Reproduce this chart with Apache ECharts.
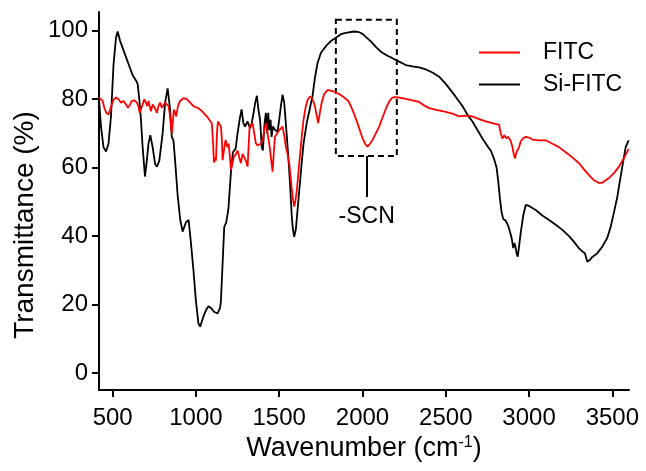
<!DOCTYPE html>
<html>
<head>
<meta charset="utf-8">
<title>FTIR spectra</title>
<script src="https://cdn.jsdelivr.net/npm/echarts@6/dist/echarts.min.js"></script>
<style>
  html, body { margin: 0; padding: 0; background: #fff; }
  #chart { width: 646px; height: 471px; }
</style>
</head>
<body>
<div id="chart"></div>
<script>
// Si-FITC (black)
const siWavenumber = [418, 430, 445, 460, 475, 490, 505, 520, 530, 545, 560, 590, 620, 640, 650, 660, 670, 680, 694, 705,
  715, 726, 740, 755, 766, 780, 800, 815, 830, 845, 855, 865, 875, 890, 905, 920, 940, 956, 970, 985,
  1000, 1015, 1025, 1035, 1045, 1060, 1075, 1090, 1110, 1130, 1145, 1150, 1160, 1170, 1182, 1195, 1205, 1212, 1222, 1238,
  1250, 1262, 1274, 1285, 1295, 1310, 1325, 1335, 1346, 1356, 1366, 1375, 1385, 1395, 1402, 1412, 1420, 1428, 1434, 1440,
  1448, 1454, 1462, 1475, 1490, 1500, 1510, 1520, 1530, 1538, 1546, 1556, 1566, 1575, 1582, 1590, 1600, 1610, 1618, 1626,
  1636, 1646, 1665, 1685, 1700, 1715, 1730, 1750, 1780, 1810, 1840, 1870, 1900, 1950, 1980, 2000, 2030, 2050, 2080, 2110,
  2150, 2180, 2220, 2260, 2300, 2340, 2380, 2420, 2460, 2500, 2540, 2570, 2600, 2630, 2660, 2690, 2720, 2750, 2770, 2790,
  2805, 2815, 2825, 2835, 2845, 2860, 2875, 2888, 2897, 2905, 2912, 2918, 2925, 2932, 2940, 2950, 2965, 2980, 3000, 3040,
  3080, 3120, 3160, 3200, 3240, 3270, 3300, 3320, 3335, 3350, 3365, 3380, 3410, 3440, 3470, 3490, 3510, 3530, 3545, 3560,
  3580, 3598];
const siTransmittance = [80, 72, 66, 64.7, 67, 75, 90, 98, 99.8, 97, 95, 91, 87, 85.5, 84.5, 80, 74, 66, 57.4, 62,
  67, 69.5, 66, 61, 60.3, 62, 70, 79, 83.2, 77, 69, 68, 62, 52, 45, 41.3, 44, 44.7, 38, 30,
  21, 14.5, 13.5, 14, 16.5, 18.3, 19.5, 19, 17.8, 17.4, 19, 21, 32, 42.7, 44, 48, 55, 60, 64.5, 65.5,
  70, 74, 77, 73, 72, 73.5, 71.5, 73, 76, 79, 81, 77, 74, 66, 65, 73, 76, 70, 76, 71,
  74, 69, 72, 71, 70.5, 74, 78, 81.3, 79, 74, 69, 62, 54.4, 46, 42, 39.8, 42, 47.6, 52, 56.4,
  62, 67, 73, 77.5, 81, 86.5, 90.5, 93.5, 95.5, 97, 98, 99, 99.4, 99.8, 99.6, 99.1, 97.8, 96.9, 95.3, 93.9,
  92.7, 92, 91, 90, 89.6, 89.3, 88.7, 87.8, 86.6, 84.5, 82, 80, 78, 75.5, 73.5, 71, 68.5, 66.3, 65, 62.5,
  60, 56, 51, 47, 45, 44.5, 43, 40.8, 39, 36.5, 38, 37, 35, 34, 37, 41, 46, 49.1, 48.8, 47.6,
  46, 44.7, 43.3, 41.8, 40, 38.3, 36.4, 35.5, 35, 32.5, 33, 33.9, 35, 36.9, 39.5, 42.7, 47, 51.5, 56, 60.3,
  66, 68];

// FITC (red)
const fitcWavenumber = [418, 430, 440, 450, 462, 475, 487, 495, 505, 520, 535, 550, 565, 580, 592, 605, 615, 630, 645, 655,
  662, 670, 680, 690, 700, 708, 715, 722, 730, 740, 750, 758, 766, 775, 785, 795, 805, 815, 825, 835,
  842, 848, 856, 862, 868, 875, 882, 892, 905, 925, 945, 965, 990, 1010, 1030, 1050, 1065, 1080, 1095, 1102,
  1108, 1114, 1120, 1126, 1132, 1142, 1150, 1156, 1160, 1168, 1178, 1188, 1197, 1204, 1210, 1218, 1228, 1240, 1250, 1260,
  1270, 1280, 1290, 1300, 1310, 1316, 1322, 1332, 1340, 1350, 1360, 1370, 1380, 1390, 1400, 1410, 1420, 1430, 1440, 1450,
  1460, 1467, 1474, 1487, 1500, 1510, 1520, 1530, 1540, 1550, 1560, 1568, 1574, 1582, 1590, 1598, 1606, 1616, 1626, 1636,
  1646, 1658, 1670, 1685, 1700, 1714, 1724, 1734, 1744, 1754, 1770, 1790, 1830, 1860, 1890, 1915, 1940, 1955, 1970, 1985,
  2000, 2015, 2030, 2045, 2060, 2080, 2100, 2115, 2130, 2145, 2160, 2175, 2190, 2220, 2260, 2300, 2340, 2370, 2400, 2450,
  2500, 2540, 2580, 2620, 2660, 2700, 2740, 2780, 2820, 2830, 2840, 2852, 2862, 2875, 2888, 2900, 2908, 2916, 2924, 2932,
  2940, 2950, 2965, 2980, 3000, 3020, 3060, 3100, 3140, 3180, 3220, 3260, 3300, 3330, 3360, 3390, 3420, 3440, 3460, 3480,
  3510, 3540, 3570, 3598];
const fitcTransmittance = [80.5, 81, 79.5, 77.5, 76, 75.5, 76, 78.5, 79.8, 80.5, 80, 79, 79.5, 78.5, 77.5, 78.5, 79.5, 79.7, 79, 78,
  76, 75.9, 78.5, 80, 79.5, 78, 79.5, 78, 76.5, 78.5, 79, 77, 76, 78, 79, 77.5, 77.5, 79, 79.5, 78,
  76, 73, 70, 74, 77, 76, 75, 78, 79.5, 80.3, 80, 79, 77.8, 77.5, 76.8, 75.8, 75, 74, 73, 68,
  61.5, 63, 62, 70, 73.5, 73, 72, 68, 62.2, 65, 68.1, 66, 67, 63, 59.3, 61, 63.2, 64, 65, 63,
  61.3, 64, 63, 62, 60.3, 66, 72, 72.5, 73, 70, 67.1, 66.5, 66, 67, 68, 71, 73, 70, 67, 63,
  58.8, 64, 69, 70, 71, 71.5, 72, 69.5, 66, 64, 61.3, 57.5, 54.4, 51, 48.6, 50.5, 53.5, 59, 64.2, 69.5,
  74, 77.5, 79.8, 80.8, 80, 78, 75.5, 73, 76, 78.8, 81.5, 82.7, 82.2, 81.5, 80.5, 79.5, 76.9, 75, 73, 70.8,
  68.6, 67, 66.1, 67, 68.1, 70, 72, 74, 75.9, 77.8, 79.3, 80.3, 80.6, 80.5, 80.1, 79.7, 79.2, 78.2, 77.4, 76.8,
  76.3, 75.8, 75, 75.2, 75, 74.2, 73.5, 73, 72.5, 70, 68.5, 69.5, 68.6, 69, 68, 66.1, 64, 62.7, 64.5, 65,
  66, 67.7, 68.6, 69, 68.8, 68.2, 68, 68, 67, 66, 64.5, 63, 61.3, 59.5, 57.8, 56.3, 55.5, 55.6, 56.3, 57,
  58.4, 60.3, 62.8, 65.5];

const xTicks = [500, 1000, 1500, 2000, 2500, 3000, 3500];
const yTicks = [0, 20, 40, 60, 80, 100];

// dashed box around the -SCN band and its pointer line
const boxWavenumber = [1840, 2206];
const boxTransmittance = [63.4, 103.2];
const pointerWavenumber = 2025;
const pointerTransmittance = [63.4, 51.4];

const font = "'Liberation Sans', Arial, sans-serif";

function pairs(xs, ys) {
  return xs.map((x, i) => [x, ys[i]]);
}

const myChart = echarts.init(document.getElementById('chart'));
myChart.setOption({
  animation: false,
  backgroundColor: '#fff',
  grid: {
    left: 99,
    right: 17,
    top: 12,
    bottom: 81
  },
  legend: {
    data: [
      { name: 'FITC', icon: 'rect' },
      { name: 'Si-FITC', icon: 'rect' }
    ],
    orient: 'vertical',
    left: 479,
    top: 41,
    padding: 0,
    itemWidth: 41,
    itemHeight: 2,
    itemGap: 9,
    textStyle: {
      fontFamily: font,
      fontSize: 23,
      color: '#000',
      padding: [0, 0, 0, 18]
    }
  },
  xAxis: {
    type: 'value',
    min: 418,
    max: 3600,
    name: 'Wavenumber (cm{sup|-1})',
    nameLocation: 'middle',
    nameGap: 45,
    nameTextStyle: {
      fontFamily: font,
      fontSize: 27,
      color: '#000',
      rich: {
        sup: { fontFamily: font, fontSize: 16, color: '#000', verticalAlign: 'top', padding: [0, 0, 10, 0] }
      }
    },
    splitLine: { show: false },
    axisLine: { show: true, onZero: false, lineStyle: { color: '#000', width: 2 } },
    axisTick: {
      show: true,
      customValues: xTicks,
      length: 7,
      lineStyle: { color: '#000', width: 2 }
    },
    axisLabel: {
      customValues: xTicks,
      formatter: (v) => String(v),
      fontFamily: font,
      fontSize: 24,
      color: '#000',
      margin: 16
    }
  },
  yAxis: {
    type: 'value',
    min: -5,
    max: 105.5,
    splitLine: { show: false },
    axisLine: { show: true, onZero: false, lineStyle: { color: '#000', width: 2 } },
    axisTick: {
      show: true,
      customValues: yTicks,
      length: 7,
      lineStyle: { color: '#000', width: 2 }
    },
    axisLabel: {
      customValues: yTicks,
      formatter: (v) => String(v),
      fontFamily: font,
      fontSize: 24,
      color: '#000',
      margin: 11
    }
  },
  graphic: [
    {
      type: 'text',
      x: 25,
      y: 225,
      rotation: Math.PI / 2,
      style: {
        text: 'Transmittance (%)',
        fontFamily: font,
        fontSize: 28,
        fill: '#000',
        textAlign: 'center',
        textVerticalAlign: 'middle'
      }
    }
  ],
  series: [
    {
      name: 'Si-FITC',
      type: 'line',
      data: pairs(siWavenumber, siTransmittance),
      symbol: 'none',
      lineStyle: { color: '#000', width: 1.8 },
      itemStyle: { color: '#000' },
      markArea: {
        silent: true,
        itemStyle: {
          color: 'rgba(0,0,0,0)',
          borderColor: '#000',
          borderWidth: 2,
          borderType: [6, 4]
        },
        data: [[
          { coord: [boxWavenumber[0], boxTransmittance[1]] },
          { coord: [boxWavenumber[1], boxTransmittance[0]] }
        ]]
      },
      markLine: {
        silent: true,
        symbol: ['none', 'none'],
        lineStyle: { color: '#000', width: 2, type: 'solid' },
        label: {
          show: true,
          position: 'end',
          formatter: '-SCN',
          fontFamily: font,
          fontSize: 23,
          color: '#000',
          distance: 8
        },
        data: [[
          { coord: [pointerWavenumber, pointerTransmittance[0]] },
          { coord: [pointerWavenumber, pointerTransmittance[1]] }
        ]]
      }
    },
    {
      name: 'FITC',
      type: 'line',
      data: pairs(fitcWavenumber, fitcTransmittance),
      symbol: 'none',
      lineStyle: { color: '#ff0000', width: 1.8 },
      itemStyle: { color: '#ff0000' }
    }
  ]
});
</script>
</body>
</html>
